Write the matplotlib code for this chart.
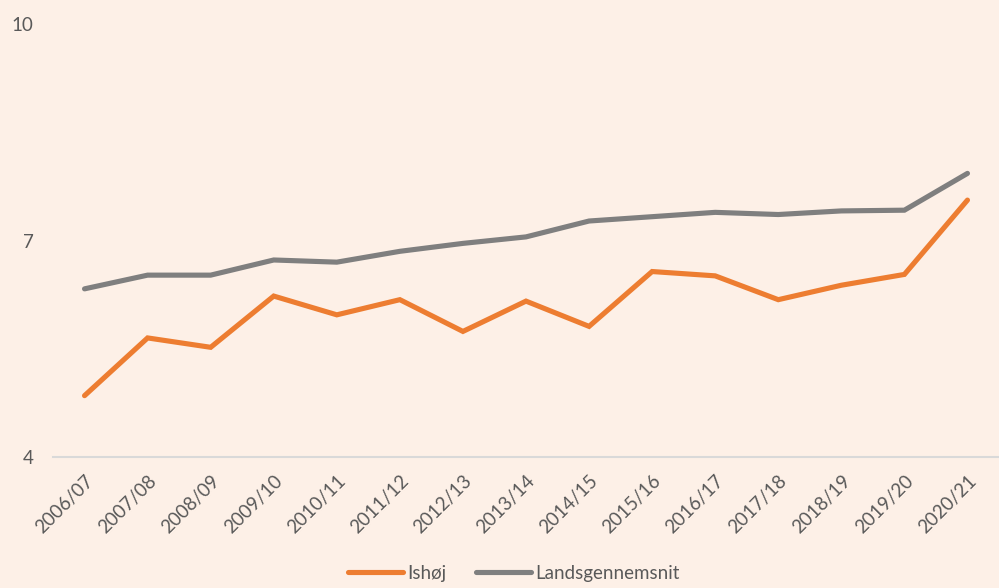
import numpy as np
import matplotlib.pyplot as plt

plt.rcParams['font.family'] = ['Lato', 'DejaVu Sans']

# Skoleår og karaktergennemsnit
seasons = ['2006/07', '2007/08', '2008/09', '2009/10', '2010/11', '2011/12',
           '2012/13', '2013/14', '2014/15', '2015/16', '2016/17', '2017/18',
           '2018/19', '2019/20', '2020/21']
ishoej = [4.85, 5.65, 5.52, 6.23, 5.97, 6.18, 5.74, 6.16, 5.81, 6.57,
          6.51, 6.18, 6.38, 6.53, 7.56]
lands = [6.33, 6.52, 6.52, 6.73, 6.70, 6.85, 6.96, 7.05, 7.27, 7.33,
         7.39, 7.36, 7.41, 7.42, 7.93]
yticks = [4, 7, 10]

bg = '#FDF0E7'
txt = '#595959'
fs = 13.5

fig = plt.figure(figsize=(9.99, 5.88), dpi=100, facecolor=bg)
ax = fig.add_axes([53 / 999, 131 / 588, 946 / 999, 433 / 588])
ax.set_facecolor(bg)

x = np.arange(len(seasons))
ax.plot(x, ishoej, color='#ED7D31', linewidth=3.7, solid_capstyle='round',
        solid_joinstyle='miter', label='Ishøj')
ax.plot(x, lands, color='#7F7F7F', linewidth=3.7, solid_capstyle='round',
        solid_joinstyle='miter', label='Landsgennemsnit')

ax.set_xlim(-0.5, len(seasons) - 0.5)
ax.set_ylim(4, 10)
ax.set_yticks(yticks)
ax.set_yticklabels([str(v) for v in yticks], fontsize=fs, color=txt)
ax.set_xticks(x)
ax.set_xticklabels(seasons, rotation=45, ha='right', va='top',
                   rotation_mode='anchor', fontsize=fs, color=txt)
ax.tick_params(axis='y', length=0, pad=14)
ax.tick_params(axis='x', length=0, pad=11)

for s in ['top', 'right', 'left']:
    ax.spines[s].set_visible(False)
ax.spines['bottom'].set_color('#D9D9D9')
ax.spines['bottom'].set_linewidth(1.5)

fig.legend(loc='lower center', bbox_to_anchor=(514 / 999, -0.018), ncol=2,
           frameon=False, fontsize=fs, labelcolor=txt, handlelength=2.9,
           handletextpad=0.25, columnspacing=1.6)

fig.savefig('out.png', dpi=100, facecolor=bg)
